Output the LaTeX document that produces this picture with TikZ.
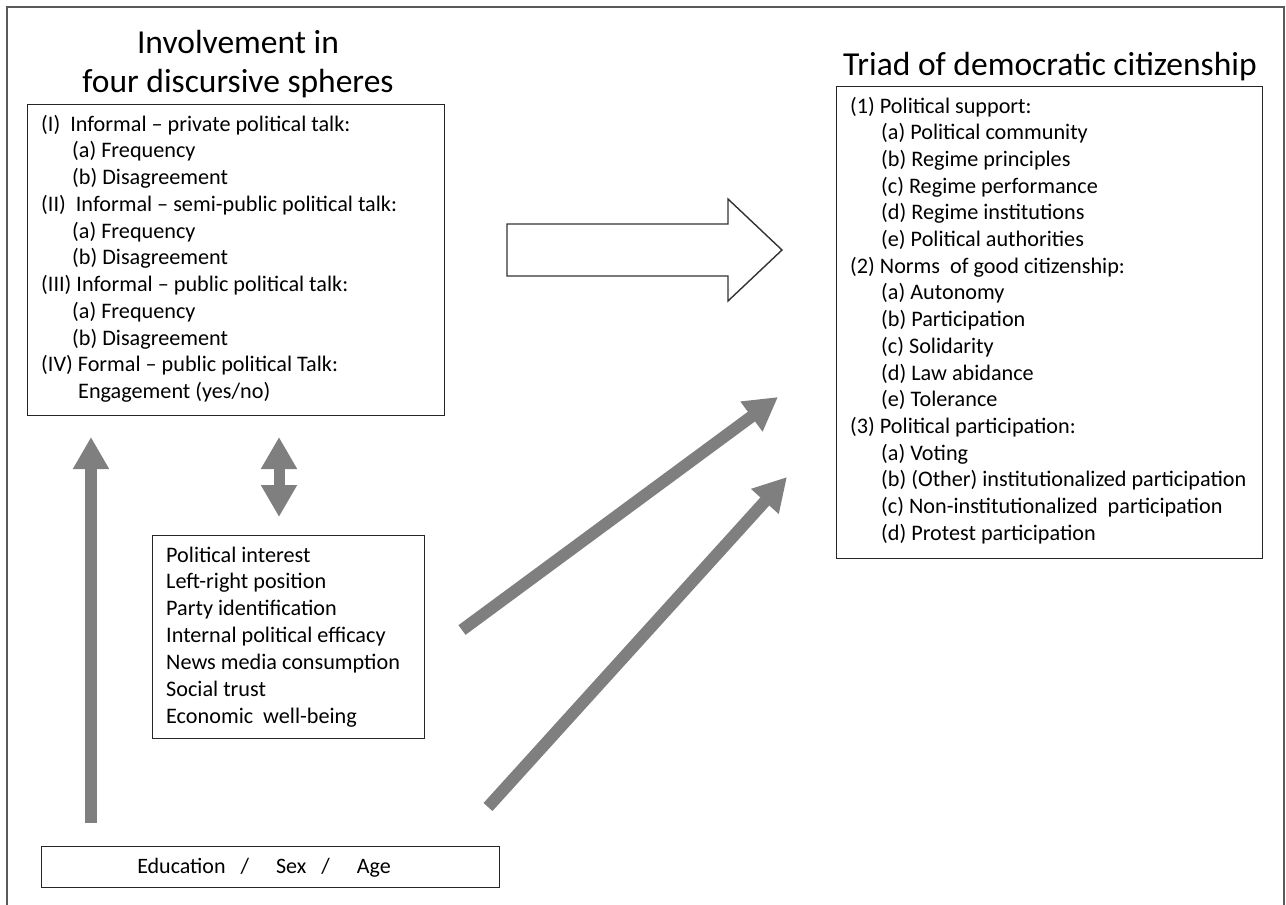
\documentclass[tikz,border=0pt]{standalone}
\usepackage{fontspec}
\setmainfont{Carlito}
\usetikzlibrary{arrows.meta}
\definecolor{arrowgray}{HTML}{7F7F7F}
\definecolor{framegray}{HTML}{5A5A5A}
\tikzset{
  box/.style={draw=black!85, line width=1.4pt, fill=white, inner sep=0pt, anchor=north west},
  txt/.style={anchor=base west, inner sep=0pt, font=\fontsize{22.2}{26}\selectfont},
  ttl/.style={anchor=base, inner sep=0pt, font=\fontsize{33.5}{40}\selectfont},
  fatarrow/.style={draw=arrowgray, line width=12pt, -{Triangle[length=33pt,width=35pt]}},
  fatdouble/.style={draw=arrowgray, line width=11pt, {Triangle[length=32pt,width=34pt]}-{Triangle[length=32pt,width=34pt]}},
  hollow/.style={draw=black!80, line width=1.4pt, fill=white}
}
\begin{document}
\begin{tikzpicture}[x=1pt,y=-1pt]
\useasboundingbox (0,0) rectangle (1286,905);
\draw[framegray, line width=2pt] (7,930) -- (7,7) -- (1284,7) -- (1284,930);

% titles
\node[ttl] (t1a) at (238,53) {Involvement in};
\node[ttl] (t1b) at (238,92) {four discursive spheres};
\node[ttl] (t2) at (1050,75) {Triad of democratic citizenship};

% boxes
\node[box, minimum width=417pt, minimum height=311pt] (spheres) at (27,104) {};
\node[box, minimum width=272pt, minimum height=203pt] (controls) at (152,535) {};
\node[box, minimum width=458pt, minimum height=41pt] (socio) at (41,846) {};
\node[box, minimum width=426pt, minimum height=472pt] (triad) at (836,86) {};

% left box text
\foreach \t/\x [count=\i] in {
  {(I)\ \ Informal -- private political talk:}/41,
  {(a) Frequency}/72,
  {(b) Disagreement}/72,
  {(II)\ \ Informal -- semi-public political talk:}/41,
  {(a) Frequency}/72,
  {(b) Disagreement}/72,
  {(III) Informal -- public political talk:}/41,
  {(a) Frequency}/72,
  {(b) Disagreement}/72,
  {(IV) Formal -- public political Talk:}/41,
  {Engagement (yes/no)}/78}
  \node[txt] (s\i) at (\x,{131+(\i-1)*26.75}) {\t};

% middle box text
\foreach \t [count=\i] in {
  Political interest, Left-right position, Party identification,
  Internal political efficacy, News media consumption, Social trust,
  Economic\ \ well-being}
  \node[txt] (c\i) at (166,{562+(\i-1)*26.85}) {\t};

% right box text
\foreach \t/\x [count=\i] in {
  {(1) Political support:}/850,
  {(a) Political community}/881,
  {(b)\ Regime principles}/881,
  {(c) Regime performance}/881,
  {(d)\ Regime institutions}/881,
  {(e) Political authorities}/881,
  {(2) Norms\ \ of good citizenship:}/850,
  {(a) Autonomy}/881,
  {(b)\ Participation}/881,
  {(c) Solidarity}/881,
  {(d)\ Law abidance}/881,
  {(e) Tolerance}/881,
  {(3) Political participation:}/850,
  {(a) Voting}/881,
  {(b)\ (Other) institutionalized participation}/881,
  {(c) Non-institutionalized\ \ participation}/881,
  {(d)\ Protest participation}/881}
  \node[txt] (r\i) at (\x,{113+(\i-1)*26.7}) {\t};

% bottom text
\node[anchor=base, inner sep=0pt, font=\fontsize{22}{26}\selectfont] (soctext) at (264,873)
  {Education\hspace{15pt}/\hspace{27pt}Sex\hspace{15pt}/\hspace{27pt}Age};

% hollow arrow
\draw[hollow] (507,224) coordinate (ha1) -- (728,224) -- (728,199) -- (782,250) coordinate (hatip)
  -- (728,301) -- (728,276) -- (507,276) -- cycle;

% double arrow
\coordinate (dtop) at (279,437);
\coordinate (dbot) at (279,517);
\draw[fatdouble] (dtop) -- (dbot);

% vertical arrow
\coordinate (vtail) at (91,823);
\coordinate (vtip) at (91,437);
\draw[fatarrow, -{Triangle[length=32pt,width=34pt]}] (vtail) -- (vtip);

% diagonal arrows
\coordinate (d1tail) at (462,630);
\coordinate (d1tip) at (778,397);
\coordinate (d2tail) at (488,807);
\coordinate (d2tip) at (787,477);
\draw[fatarrow] (d1tail) -- (d1tip);
\draw[fatarrow] (d2tail) -- (d2tip);
\end{tikzpicture}
\end{document}
